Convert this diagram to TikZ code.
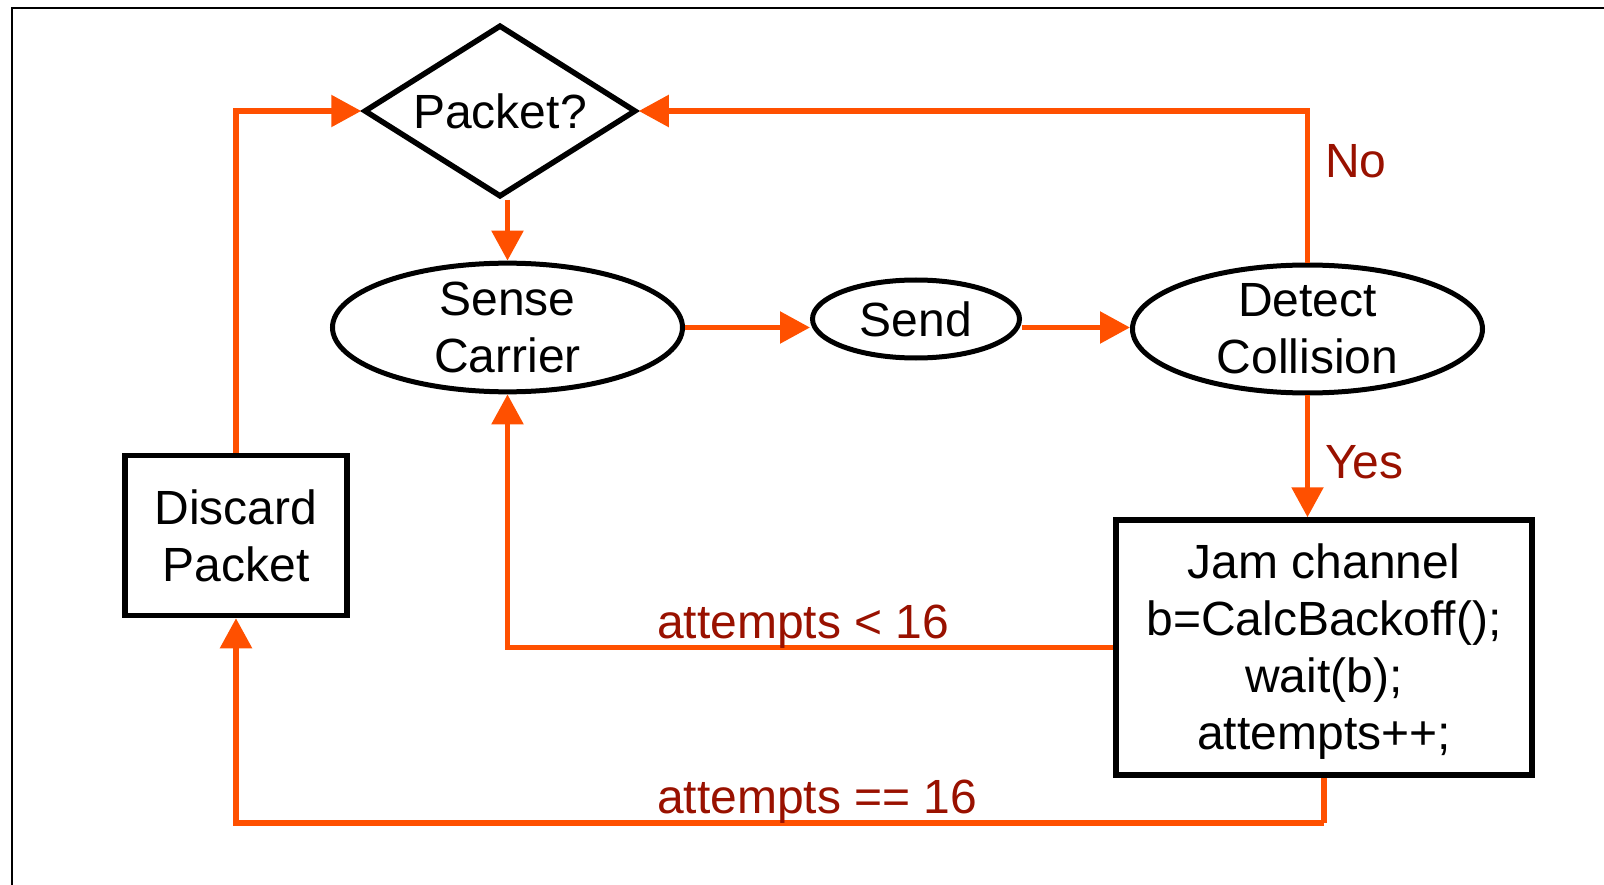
\documentclass[tikz,border=0pt]{standalone}
\usepackage{fontspec}
\setmainfont{Liberation Sans}
\usetikzlibrary{shapes.geometric,arrows.meta}
\definecolor{flow}{RGB}{255,80,0}
\definecolor{lbl}{RGB}{153,17,0}
\begin{document}
\begin{tikzpicture}[x=1pt,y=-1pt,
  every node/.style={font=\fontsize{48}{57}\selectfont, align=center, inner sep=0pt},
  frame/.style={line width=2.5pt},
  decision/.style={draw, line width=5.5pt, shape=diamond, aspect=1.6,
    minimum width=272pt, minimum height=172pt},
  process/.style={draw, line width=5pt, shape=ellipse},
  action/.style={draw, line width=5.5pt, rectangle},
  link/.style={draw=flow, line width=5.5pt, -{Triangle[length=30pt,width=31pt]}},
  plain/.style={draw=flow, line width=5.5pt},
  note/.style={text=lbl, anchor=base west}]
  \useasboundingbox (0,0) rectangle (1604,885);

  % page frame (top and left edges)
  \draw[frame] (12,885) -- (12,8) -- (1604,8);

  % nodes
  \node[decision] (packet) at (500,111) {Packet?};
  \node[process, minimum width=350pt, minimum height=126pt] (sense) at (507.5,327.5) {Sense\\Carrier};
  \node[process, minimum width=207pt, minimum height=78pt] (send) at (916,319) {Send};
  \node[process, minimum width=350pt, minimum height=125pt] (detect) at (1307.5,329) {Detect\\Collision};
  \node[action, minimum width=416pt, minimum height=255pt] (jam) at (1324,647.5)
    {\rule{0pt}{43pt}Jam channel\\b=CalcBackoff();\\wait(b);\\attempts++;};
  \node[action, minimum width=222pt, minimum height=160pt] (discard) at (236,535.5) {Discard\\Packet};

  \coordinate (low) at (1324,823);

  % connectors
  \draw[link] (packet.south -| sense.north) -- (sense.north);
  \draw[link] (sense.east) -- (send.west |- sense.east);
  \draw[link] (send.east |- sense.east) -- (detect.west |- sense.east);
  \draw[link] (detect.north) |- (packet.east);
  \draw[link] (detect.south) -- (detect.south |- jam.north);
  \draw[link] (jam.west) -| (sense.south);
  \draw[plain] (jam.south) -- (low);
  \draw[link] (low) -| (discard.south);
  \draw[link] (discard.north) |- (packet.west);

  % branch labels
  \node[note] (no) at (1325,178) {No};
  \node[note] (yes) at (1325,478) {Yes};
  \node[note] (retry) at (657,638) {attempts < 16};
  \node[note] (giveup) at (657,813) {attempts == 16};
\end{tikzpicture}
\end{document}
